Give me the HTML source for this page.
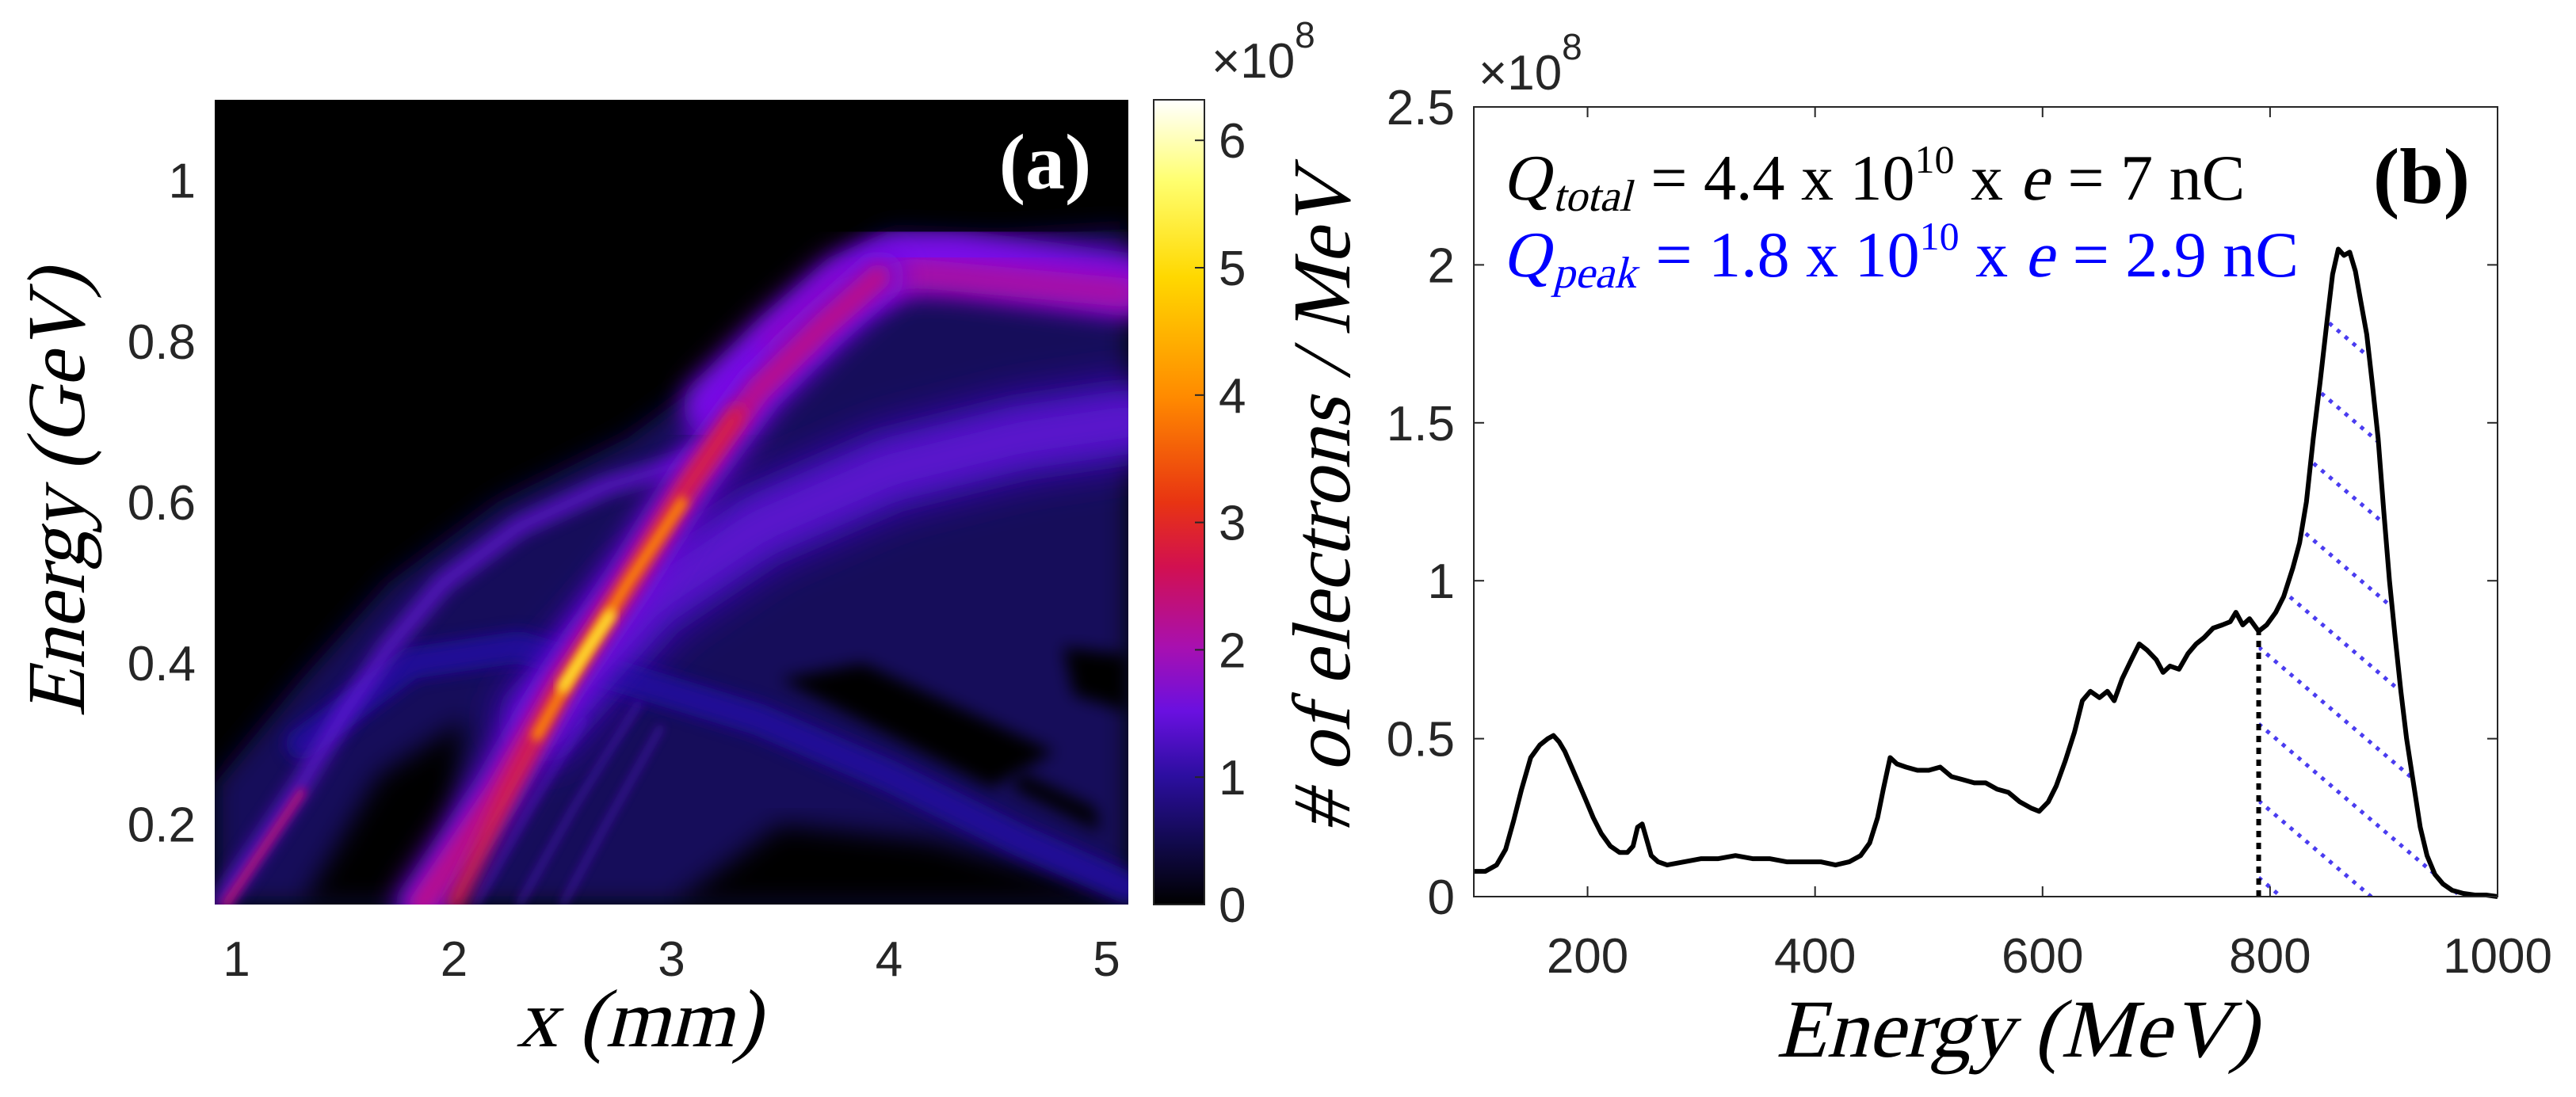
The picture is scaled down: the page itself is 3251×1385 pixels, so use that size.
<!DOCTYPE html>
<html><head><meta charset="utf-8">
<style>
html,body{margin:0;padding:0;background:#fff;overflow:hidden;width:3251px;height:1385px;}
svg{display:block;}
</style></head>
<body>
<svg id="fig" width="3251" height="1385" viewBox="0 0 3251 1385" xmlns="http://www.w3.org/2000/svg">
<defs>
  <clipPath id="hmclip"><rect x="271" y="126" width="1153" height="1016"/></clipPath>
  <filter id="b4" x="-20%" y="-20%" width="140%" height="140%"><feGaussianBlur stdDeviation="6"/></filter>
  <filter id="b8" x="-20%" y="-20%" width="140%" height="140%"><feGaussianBlur stdDeviation="10"/></filter>
  <filter id="b14" x="-20%" y="-20%" width="140%" height="140%"><feGaussianBlur stdDeviation="16"/></filter>
  <filter id="b22" x="-30%" y="-30%" width="160%" height="160%"><feGaussianBlur stdDeviation="24"/></filter>
  <linearGradient id="cmap" x1="0" y1="1" x2="0" y2="0">
    <stop offset="0" stop-color="#000000"/>
    <stop offset="0.08" stop-color="#120a50"/>
    <stop offset="0.16" stop-color="#2c0ea0"/>
    <stop offset="0.24" stop-color="#6a10e0"/>
    <stop offset="0.32" stop-color="#a810b0"/>
    <stop offset="0.42" stop-color="#d21050"/>
    <stop offset="0.50" stop-color="#e83412"/>
    <stop offset="0.63" stop-color="#ff8a00"/>
    <stop offset="0.78" stop-color="#ffd800"/>
    <stop offset="0.90" stop-color="#ffff70"/>
    <stop offset="1" stop-color="#ffffff"/>
  </linearGradient>
  <clipPath id="hatchclip"><path id="hatchclippath" d=""/></clipPath>
</defs>

<g>
  <rect x="271" y="126" width="1153" height="1016" fill="#000"/>
  <g id="heat" clip-path="url(#hmclip)"></g>
  <g id="axA"></g>
  <text x="1319" y="238" text-anchor="middle" font-family="Liberation Serif,serif" font-weight="bold" font-size="100" fill="#fff">(a)</text>
  <text font-family="Liberation Serif,serif" font-size="104" fill="#000" transform="translate(806,1321) skewX(-14)" text-anchor="middle">x (mm)</text>
  <text font-family="Liberation Serif,serif" font-size="104" fill="#000" transform="translate(106,623) rotate(-90) skewX(-14)" text-anchor="middle" textLength="565" lengthAdjust="spacingAndGlyphs">Energy (GeV)</text>
  <rect x="1456" y="126" width="64" height="1016" fill="url(#cmap)" stroke="#262626" stroke-width="2"/>
  <g id="cbar"></g>
  <text font-family="Liberation Sans,sans-serif" font-size="62" fill="#262626" x="1529" y="98">×10<tspan dy="-38" font-size="46">8</tspan></text>
</g>

<g>
  <g id="hatch" clip-path="url(#hatchclip)"></g>
  <line id="cutline" stroke="#000" stroke-width="6" stroke-dasharray="8 7"/>
  <path id="spec" fill="none" stroke="#000" stroke-width="6" stroke-linejoin="round"/>
  <rect x="1860" y="135" width="1292" height="997" fill="none" stroke="#262626" stroke-width="2"/>
  <g id="axB"></g>
  <text font-family="Liberation Sans,sans-serif" font-size="62" fill="#262626" x="1866" y="113">×10<tspan dy="-38" font-size="46">8</tspan></text>
  <text x="3056" y="256" text-anchor="middle" font-family="Liberation Serif,serif" font-weight="bold" font-size="100" fill="#000">(b)</text>
  <g id="annTotal"></g>
  <g id="annPeak"></g>
  <text font-family="Liberation Serif,serif" font-size="104" fill="#000" transform="translate(2545,1334) skewX(-14)" text-anchor="middle">Energy (MeV)</text>
  <text font-family="Liberation Serif,serif" font-size="104" fill="#000" transform="translate(1703,634) rotate(-90) skewX(-14)" text-anchor="middle" textLength="835" lengthAdjust="spacingAndGlyphs"># of electrons / MeV</text>
</g>

<script>
// ---------- Panel (a) data ----------
const aXTicks = [1, 2, 3, 4, 5];
const aYTicks = [0.2, 0.4, 0.6, 0.8, 1];
const aYTickLabels = ["0.2", "0.4", "0.6", "0.8", "1"];
const cbTicks = [0, 1, 2, 3, 4, 5, 6];
const envelopeRegion = [[0.9,0.1],[0.9,0.25],[1.3,0.38],[1.7,0.5],[2.2,0.6],[2.8,0.68],[3.3,0.78],[3.7,0.88],[4.0,0.935],[4.5,0.93],[5.1,0.94],[5.1,0.1]];
const darkLowLeft = [[1.3,0.1],[1.65,0.26],[2.05,0.33],[1.95,0.1]];
const darkLowRight = [[3.0,0.1],[3.5,0.2],[4.2,0.18],[5.1,0.11],[5.1,0.1]];
const hole1 = [[3.5,0.38],[4.47,0.245],[4.76,0.29],[3.88,0.40]];
const hole2 = [[4.8,0.42],[5.1,0.41],[5.1,0.34],[4.85,0.36]];
const hole3 = [[4.57,0.245],[4.97,0.19],[4.95,0.22],[4.6,0.265]];
const arcBand = [[1.3,0.3],[1.8,0.4],[2.3,0.42],[2.8,0.38],[3.4,0.33],[4.0,0.26],[4.6,0.18],[5.1,0.12]];
const fanBand = [[2.4,0.33],[2.9,0.48],[3.4,0.57],[4.0,0.64],[4.6,0.68],[5.1,0.7]];
const upperBand = [[3.2,0.72],[3.5,0.8],[3.8,0.87],[4.05,0.9],[4.3,0.9],[4.7,0.885],[5.1,0.87]];
const upperCore = [[3.5,0.79],[3.8,0.86],[4.1,0.885],[4.5,0.875],[5.1,0.86]];
const leftBeam = [[0.92,0.1],[1.1,0.17],[1.3,0.25],[1.5,0.34],[1.7,0.42],[1.95,0.5],[2.3,0.57],[2.7,0.62],[3.2,0.66]];
const leftCore = [[0.95,0.1],[1.1,0.16],[1.3,0.24]];
const mainBeam = [[1.85,0.1],[2.2,0.24],[2.5,0.38],[2.8,0.5],[3.1,0.63],[3.4,0.74],[3.7,0.82],[3.95,0.88]];
const mainRed = [[2.0,0.1],[2.25,0.24],[2.5,0.37],[2.8,0.5],[3.05,0.61],[3.3,0.71]];
const mainOrange = [[2.38,0.31],[2.55,0.39],[2.8,0.5],[3.05,0.6]];
const mainYellow = [[2.5,0.37],[2.62,0.42],[2.72,0.46]];
const streak1 = [[2.1,0.1],[2.35,0.22],[2.6,0.33]];
const streak2 = [[2.3,0.1],[2.55,0.22],[2.85,0.35]];
const streak3 = [[2.5,0.1],[2.7,0.2],[2.95,0.32]];

// ---------- Panel (b) data ----------
const bXTicks = [200, 400, 600, 800, 1000];
const bYTicks = [0, 0.5, 1, 1.5, 2, 2.5];
const bYTickLabels = ["0", "0.5", "1", "1.5", "2", "2.5"];
const specE = [100,110,120,128,135,142,150,158,165,170,175,180,186,192,198,205,212,220,228,235,240,244,248,252,256,262,270,285,300,315,330,345,360,375,390,405,418,430,440,448,455,460,466,472,480,490,500,510,520,530,540,550,560,570,580,590,597,605,612,620,628,635,642,650,657,663,670,678,685,692,700,706,712,720,728,735,742,750,758,765,770,776,782,790,797,805,812,820,826,832,838,844,850,855,860,865,870,875,880,885,890,895,900,905,910,915,920,926,932,938,945,952,960,970,980,990,1000];
const specV = [0.08,0.08,0.10,0.15,0.24,0.34,0.44,0.48,0.50,0.51,0.49,0.46,0.41,0.36,0.31,0.25,0.20,0.16,0.14,0.14,0.16,0.22,0.23,0.18,0.13,0.11,0.10,0.11,0.12,0.12,0.13,0.12,0.12,0.11,0.11,0.11,0.10,0.11,0.13,0.17,0.25,0.34,0.44,0.42,0.41,0.40,0.40,0.41,0.38,0.37,0.36,0.36,0.34,0.33,0.30,0.28,0.27,0.30,0.35,0.43,0.52,0.62,0.65,0.63,0.65,0.62,0.69,0.75,0.80,0.78,0.75,0.71,0.73,0.72,0.77,0.80,0.82,0.85,0.86,0.87,0.90,0.86,0.88,0.84,0.86,0.90,0.95,1.04,1.12,1.25,1.45,1.63,1.82,1.97,2.05,2.03,2.04,1.98,1.88,1.78,1.62,1.45,1.22,1.00,0.82,0.65,0.50,0.36,0.22,0.13,0.07,0.04,0.02,0.01,0.005,0.005,0.0];
const cutEnergy = 790;

const AX = v => 271 + (v - 0.9) / 4.2 * 1153;
const AY = e => 1142 - (e - 0.1) / 1.0 * 1016;
const CY = v => 1142 - v * 160.8;
const BX = m => 1860 + (m - 100) / 900 * 1292;
const BY = v => 1132 - v / 2.5 * 997;
const NS = "http://www.w3.org/2000/svg";

function mk(tag, attrs, parent) {
  const el = document.createElementNS(NS, tag);
  for (const k in attrs) el.setAttribute(k, attrs[k]);
  parent.appendChild(el);
  return el;
}
function pathOf(pts, close) {
  let d = pts.map((p, i) => (i ? "L" : "M") + AX(p[0]).toFixed(1) + "," + AY(p[1]).toFixed(1)).join(" ");
  return close ? d + " Z" : d;
}
function tick(parent, x, y, anchor, txt, name) {
  const t = mk("text", {x: x, y: y, "text-anchor": anchor, "font-family": "Liberation Sans, sans-serif", "font-size": 62, fill: "#262626"}, parent);
  
  
  t.textContent = txt;
}

const heat = document.getElementById("heat");
function region(pts, fill, blur, name) {
  const el = mk("path", {d: pathOf(pts, true), fill: fill, filter: "url(#" + blur + ")"}, heat);
  
  
}
function band(pts, color, w, blur, name, op) {
  const el = mk("path", {d: pathOf(pts, false), fill: "none", stroke: color, "stroke-width": w, "stroke-linecap": "round", "stroke-linejoin": "round", filter: "url(#" + blur + ")", opacity: op || 1}, heat);
  
  
}
region(envelopeRegion, "#140a5a", "b14", "heat-envelope");
band(fanBand, "#3a10b0", 110, "b22", "heat-fan-outer");
region(darkLowLeft, "#000", "b14", "heat-dark-lowleft");
region(darkLowRight, "#000", "b14", "heat-dark-lowright");
region(hole1, "#000", "b8", "heat-hole-1");
region(hole2, "#000", "b8", "heat-hole-2");
region(hole3, "#000", "b8", "heat-hole-3");
band(arcBand, "#24109e", 40, "b8", "heat-arc-band", 0.9);
band(fanBand, "#5a12cc", 60, "b14", "heat-fan-band");
band(upperBand, "#7a10e8", 80, "b14", "heat-upper-band");
band(upperCore, "#b0109a", 36, "b14", "heat-upper-core");
band(leftBeam, "#6a14e0", 24, "b8", "heat-left-beam", 0.75);
band(leftCore, "#c01070", 10, "b4", "heat-left-core");
band(streak1, "#5a12d0", 6, "b4", "heat-streak-1", 0.7);
band(streak2, "#5a12d0", 6, "b4", "heat-streak-2", 0.7);
band(streak3, "#5a12d0", 6, "b4", "heat-streak-3", 0.7);
band(mainBeam, "#7010e0", 66, "b14", "heat-main-halo");
band(mainBeam, "#b8108e", 32, "b8", "heat-main-magenta");
band(mainRed, "#e02030", 18, "b8", "heat-main-red");
band(mainOrange, "#ff8a00", 13, "b4", "heat-main-orange");
band(mainYellow, "#ffe830", 13, "b4", "heat-main-yellow");

const axA = document.getElementById("axA");
aXTicks.forEach(v => tick(axA, AX(v), 1232, "middle", String(v), "x-tick-label-a"));
aYTicks.forEach((v, i) => tick(axA, 247, AY(v) + 22, "end", aYTickLabels[i], "y-tick-label-a"));
const cbar = document.getElementById("cbar");
cbTicks.forEach(v => {
  const l = mk("line", {x1: 1508, x2: 1520, y1: CY(v), y2: CY(v), stroke: "#262626", "stroke-width": 2}, cbar);
  
  
  tick(cbar, 1538, CY(v) + 22, "start", String(v), "colorbar-tick-label");
});

function annot(gid, y, color, pieces) {
  const g = document.getElementById(gid);
  let x = 1896;
  pieces.forEach(p => {
    const [txt, size, ital, dy] = p;
    const t = mk("text", {x: 0, y: 0, "font-family": "Liberation Serif, serif", "font-size": size, fill: color,
      style: "white-space:pre",
      transform: "translate(" + x + "," + (y + dy) + ")" + (ital ? " skewX(-14)" : "")}, g);
    
    
    t.textContent = txt;
    x += t.getComputedTextLength() + (ital ? 4 : 0);
  });
}
annot("annTotal", 252, "#000", [["Q",82,true,0],["total",56,true,14],[" = 4.4 x 10",82,false,0],["10",50,false,-34],[" x ",82,false,0],["e",82,true,0],[" = 7 nC",82,false,0]]);
annot("annPeak", 349, "#0000ff", [["Q",82,true,0],["peak",56,true,14],[" = 1.8 x 10",82,false,0],["10",50,false,-34],[" x ",82,false,0],["e",82,true,0],[" = 2.9 nC",82,false,0]]);

const spec = document.getElementById("spec");
spec.setAttribute("d", specE.map((e, i) => (i ? "L" : "M") + BX(e).toFixed(1) + "," + BY(specV[i]).toFixed(1)).join(" "));

function interp(e) {
  for (let i = 1; i < specE.length; i++) {
    if (specE[i] >= e) {
      const t = (e - specE[i-1]) / (specE[i] - specE[i-1]);
      return specV[i-1] + t * (specV[i] - specV[i-1]);
    }
  }
  return specV[specV.length - 1];
}
const cutV = interp(cutEnergy);
const cl = document.getElementById("cutline");
cl.setAttribute("x1", BX(cutEnergy)); cl.setAttribute("x2", BX(cutEnergy));
cl.setAttribute("y1", BY(0)); cl.setAttribute("y2", BY(cutV));

let cd = "M" + BX(cutEnergy) + "," + BY(0) + " L" + BX(cutEnergy) + "," + BY(cutV);
specE.forEach((e, i) => { if (e > cutEnergy) cd += " L" + BX(e).toFixed(1) + "," + BY(specV[i]).toFixed(1); });
cd += " L" + BX(1000) + "," + BY(0) + " Z";
document.getElementById("hatchclippath").setAttribute("d", cd);
const hatch = document.getElementById("hatch");
const x0 = BX(cutEnergy);
for (let k = 0; k < 10; k++) {
  const y0 = BY(cutV) + 20 + k * 97 - 5 * 97;
  const l = mk("line", {x1: x0, y1: y0, x2: x0 + 600, y2: y0 + 600 * 0.853, stroke: "#4a3cf0", "stroke-width": 5, "stroke-dasharray": "5 8"}, hatch);
  
  
}

const axB = document.getElementById("axB");
bXTicks.forEach(v => {
  const l1 = mk("line", {x1: BX(v), x2: BX(v), y1: 1132, y2: 1119, stroke: "#262626", "stroke-width": 2}, axB);
  
  
  const l2 = mk("line", {x1: BX(v), x2: BX(v), y1: 135, y2: 148, stroke: "#262626", "stroke-width": 2}, axB);
  
  
  tick(axB, BX(v), 1228, "middle", String(v), "x-tick-label-b");
});
bYTicks.forEach((v, i) => {
  const l1 = mk("line", {x1: 1860, x2: 1873, y1: BY(v), y2: BY(v), stroke: "#262626", "stroke-width": 2}, axB);
  
  
  const l2 = mk("line", {x1: 3152, x2: 3139, y1: BY(v), y2: BY(v), stroke: "#262626", "stroke-width": 2}, axB);
  
  
  tick(axB, 1836, BY(v) + 22, "end", bYTickLabels[i], "y-tick-label-b");
});
</script>
</svg>
</body></html>
